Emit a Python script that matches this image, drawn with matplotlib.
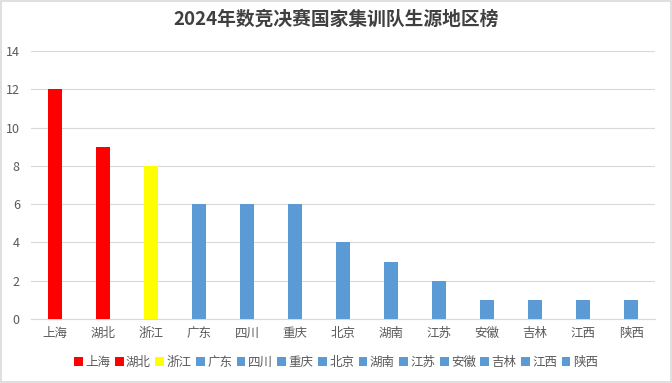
import matplotlib
matplotlib.use("Agg")
import matplotlib.pyplot as plt
from matplotlib.patches import Rectangle

plt.rcParams["font.family"] = ["Noto Sans CJK SC", "DejaVu Sans"]

regions = ["上海", "湖北", "浙江", "广东", "四川", "重庆", "北京", "湖南", "江苏", "安徽", "吉林", "江西", "陕西"]
counts = [12, 9, 8, 6, 6, 6, 4, 3, 2, 1, 1, 1, 1]
colors = ["#FF0000", "#FF0000", "#FFFF00"] + ["#5B9BD5"] * 10
title = "2024年数竞决赛国家集训队生源地区榜"
yticks = [0, 2, 4, 6, 8, 10, 12, 14]

fig = plt.figure(figsize=(6.72, 3.83), dpi=100)
ax = fig.add_axes([0.046, 0.167, 0.929, 0.70])

x = list(range(len(regions)))
for xi, name, val, col in zip(x, regions, counts, colors):
    ax.bar(xi, val, width=0.29, color=col, label=name, zorder=3)

ax.set_xlim(-0.5, len(regions) - 0.5)
ax.set_ylim(0, 14)
ax.set_yticks(yticks)
ax.set_xticks(x)
ax.set_xticklabels(regions)
ax.tick_params(axis="both", length=0, colors="#595959", labelsize=9)
ax.tick_params(axis="x", pad=6)
ax.tick_params(axis="y", pad=8)
ax.grid(axis="y", color="#D9D9D9", linewidth=0.8, zorder=0)
for side in ["top", "right", "left"]:
    ax.spines[side].set_visible(False)
ax.spines["bottom"].set_color("#D9D9D9")

fig.suptitle(title, y=0.975, fontsize=13.5, fontweight="bold", color="#404040")

fig.legend(loc="center", bbox_to_anchor=(0.5, 0.053), ncol=13, frameon=False,
           fontsize=9, handlelength=0.7, handleheight=0.7, handletextpad=0.2,
           columnspacing=0.35, labelcolor="#595959")

fig.patches.append(Rectangle((0.001, 0.002), 0.997, 0.995, transform=fig.transFigure,
                             fill=False, edgecolor="#D9D9D9", linewidth=1.2))

fig.savefig("out.png", dpi=100)
